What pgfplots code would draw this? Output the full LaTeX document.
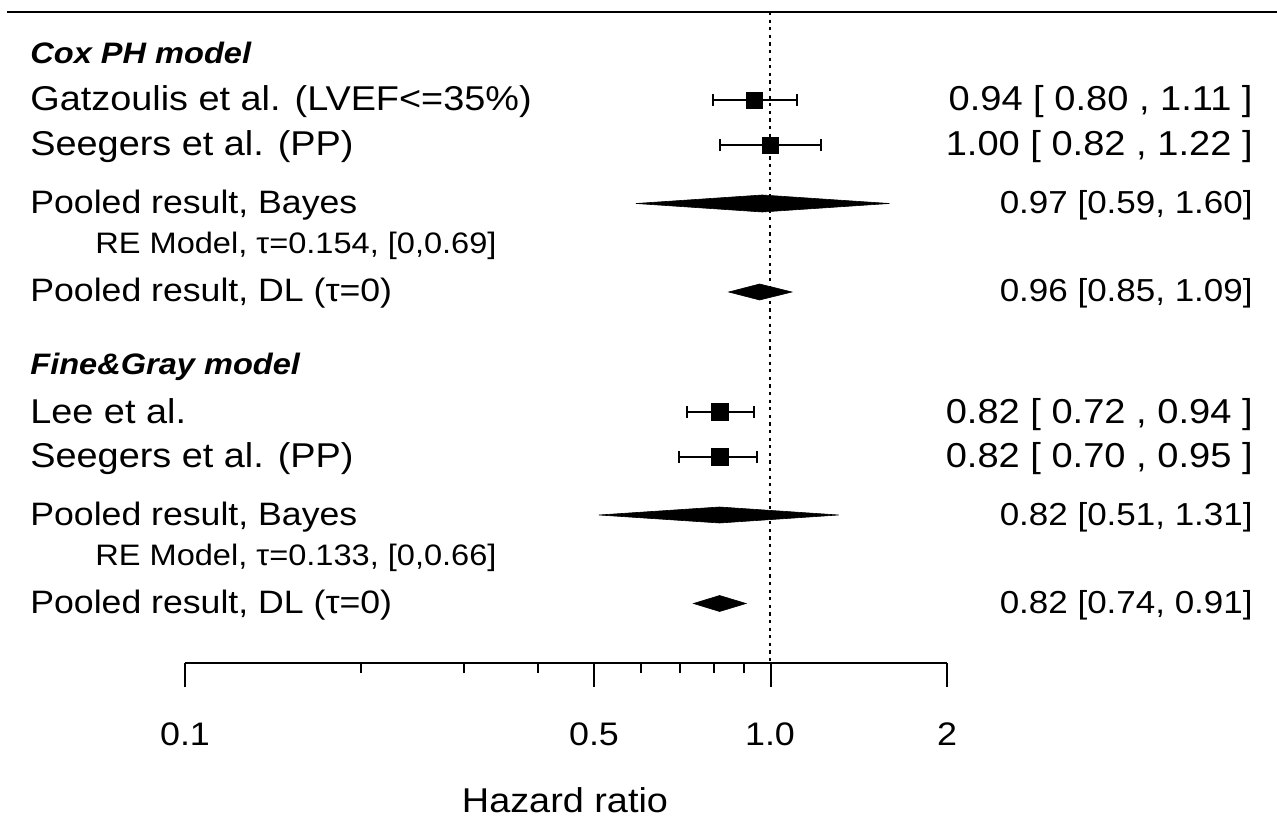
\documentclass[border=0pt]{standalone}
\usepackage{pgfplots}
\pgfplotsset{compat=1.18}
\usepackage{fontspec}
\setmainfont{Liberation Sans}[FakeStretch=1.1]
\def\fA{\fontsize{17.2pt}{20pt}\selectfont}
\def\fB{\fontsize{16.2pt}{19pt}\selectfont}
\def\fC{\fontsize{14.8pt}{17pt}\selectfont}
\def\fR{\fontsize{17.3pt}{20pt}\selectfont}
\def\fS{\fontsize{15.9pt}{19pt}\selectfont}
\def\fT{\fontsize{16.3pt}{19pt}\selectfont}
\begin{document}
\begin{tikzpicture}
\useasboundingbox (0pt,0pt) rectangle (638.5pt,-408.5pt);
% main data axis: x = log hazard ratio, y = -pixel row
\begin{axis}[at={(0pt,0pt)}, anchor=north west, scale only axis,
  width=638.5pt, height=408.5pt, xmode=log,
  xmin=0.048276, xmax=7.3564, ymin=-817, ymax=0,
  hide axis, clip=false]
% reference line at HR = 1
\addplot[black, line width=0.75pt, dash pattern=on 1.6pt off 2.2pt] coordinates {(1,-12) (1,-663)};
% confidence intervals
\addplot[black, line width=1pt, mark=|, mark size=3pt] coordinates {(0.80,-100.5) (1.11,-100.5)};
\addplot[black, line width=1pt, mark=|, mark size=3pt] coordinates {(0.82,-145.5) (1.22,-145.5)};
\addplot[black, line width=1pt, mark=|, mark size=3pt] coordinates {(0.72,-412) (0.94,-412)};
\addplot[black, line width=1pt, mark=|, mark size=3pt] coordinates {(0.70,-457) (0.95,-457)};
% pooled diamonds
\addplot[fill=black, draw=black, line width=0.3pt] coordinates {(0.59,-203.5) (0.97,-195) (1.60,-203.5) (0.97,-212)} -- cycle;
\addplot[fill=black, draw=black, line width=0.3pt] coordinates {(0.85,-292) (0.96,-284) (1.09,-292) (0.96,-300)} -- cycle;
\addplot[fill=black, draw=black, line width=0.3pt] coordinates {(0.51,-515) (0.82,-507) (1.31,-515) (0.82,-523)} -- cycle;
\addplot[fill=black, draw=black, line width=0.3pt] coordinates {(0.74,-603.5) (0.82,-595.5) (0.91,-603.5) (0.82,-611.5)} -- cycle;
% point estimates
\addplot[only marks, mark=square*, mark size=4.1pt, mark options={fill=black, draw=black, line width=0.3pt}] coordinates {(0.94,-100.5) (1.00,-145.5) (0.82,-412) (0.82,-457)};
\end{axis}
% bottom scale
\begin{axis}[at={(92.5pt,-331.5pt)}, anchor=south west, scale only axis,
  width=381pt, height=20pt, xmode=log, xmin=0.1, xmax=2, ymin=0, ymax=1,
  axis x line*=bottom, axis y line=none,
  xtick={0.1,0.5,1,2}, minor xtick={0.2,0.3,0.4,0.6,0.7,0.8,0.9},
  xticklabels={,,,}, tick align=outside, major tick length=12pt, minor tick length=5pt,
  every tick/.style={black, line width=1pt}, axis line style={black, line width=1pt, -}]
\end{axis}
% top rule
\draw[line width=1pt] (3.5pt,-6pt) -- (638.5pt,-6pt);
% tick labels and axis title
\node[anchor=base, inner sep=0pt, font=\fT] at (92.5pt,-372.5pt) {0.1};
\node[anchor=base, inner sep=0pt, font=\fT] at (297pt,-372.5pt) {0.5};
\node[anchor=base, inner sep=0pt, font=\fT] at (385pt,-372.5pt) {1.0};
\node[anchor=base, inner sep=0pt, font=\fT] at (473.5pt,-372.5pt) {2};
\node[anchor=base, inner sep=0pt, font=\fA] at (282.5pt,-406pt) {Hazard ratio};
% left labels, Cox group
\node[anchor=base west, inner sep=0pt, font=\fC\bfseries\itshape] at (15pt,-32pt) {Cox PH model};
\node[anchor=base west, inner sep=0pt, font=\fA] at (15pt,-55.5pt) {Gatzoulis et al. (LVEF<=35\%)};
\node[anchor=base west, inner sep=0pt, font=\fA] at (15pt,-78pt) {Seegers et al. (PP)};
\node[anchor=base west, inner sep=0pt, font=\fB] at (15pt,-107pt) {Pooled result, Bayes};
\node[anchor=base west, inner sep=0pt, font=\fC] at (47.5pt,-127pt) {RE Model, τ=0.154, [0,0.69]};
\node[anchor=base west, inner sep=0pt, font=\fB] at (15pt,-151pt) {Pooled result, DL (τ=0)};
% left labels, Fine&Gray group
\node[anchor=base west, inner sep=0pt, font=\fC\bfseries\itshape] at (15pt,-187.5pt) {Fine\&Gray model};
\node[anchor=base west, inner sep=0pt, font=\fA] at (15pt,-211.5pt) {Lee et al.};
\node[anchor=base west, inner sep=0pt, font=\fA] at (15pt,-233.5pt) {Seegers et al. (PP)};
\node[anchor=base west, inner sep=0pt, font=\fB] at (15pt,-262.5pt) {Pooled result, Bayes};
\node[anchor=base west, inner sep=0pt, font=\fC] at (47.5pt,-282.5pt) {RE Model, τ=0.133, [0,0.66]};
\node[anchor=base west, inner sep=0pt, font=\fB] at (15pt,-306.5pt) {Pooled result, DL (τ=0)};
% right column
\node[anchor=base east, inner sep=0pt, font=\fR] at (626.5pt,-55.5pt) {0.94 [ 0.80 , 1.11 ]};
\node[anchor=base east, inner sep=0pt, font=\fR] at (626.5pt,-78pt) {1.00 [ 0.82 , 1.22 ]};
\node[anchor=base east, inner sep=0pt, font=\fS] at (626.5pt,-107pt) {0.97 [0.59, 1.60]};
\node[anchor=base east, inner sep=0pt, font=\fS] at (626.5pt,-151pt) {0.96 [0.85, 1.09]};
\node[anchor=base east, inner sep=0pt, font=\fR] at (626.5pt,-211.5pt) {0.82 [ 0.72 , 0.94 ]};
\node[anchor=base east, inner sep=0pt, font=\fR] at (626.5pt,-233.5pt) {0.82 [ 0.70 , 0.95 ]};
\node[anchor=base east, inner sep=0pt, font=\fS] at (626.5pt,-262.5pt) {0.82 [0.51, 1.31]};
\node[anchor=base east, inner sep=0pt, font=\fS] at (626.5pt,-306.5pt) {0.82 [0.74, 0.91]};
\end{tikzpicture}
\end{document}
